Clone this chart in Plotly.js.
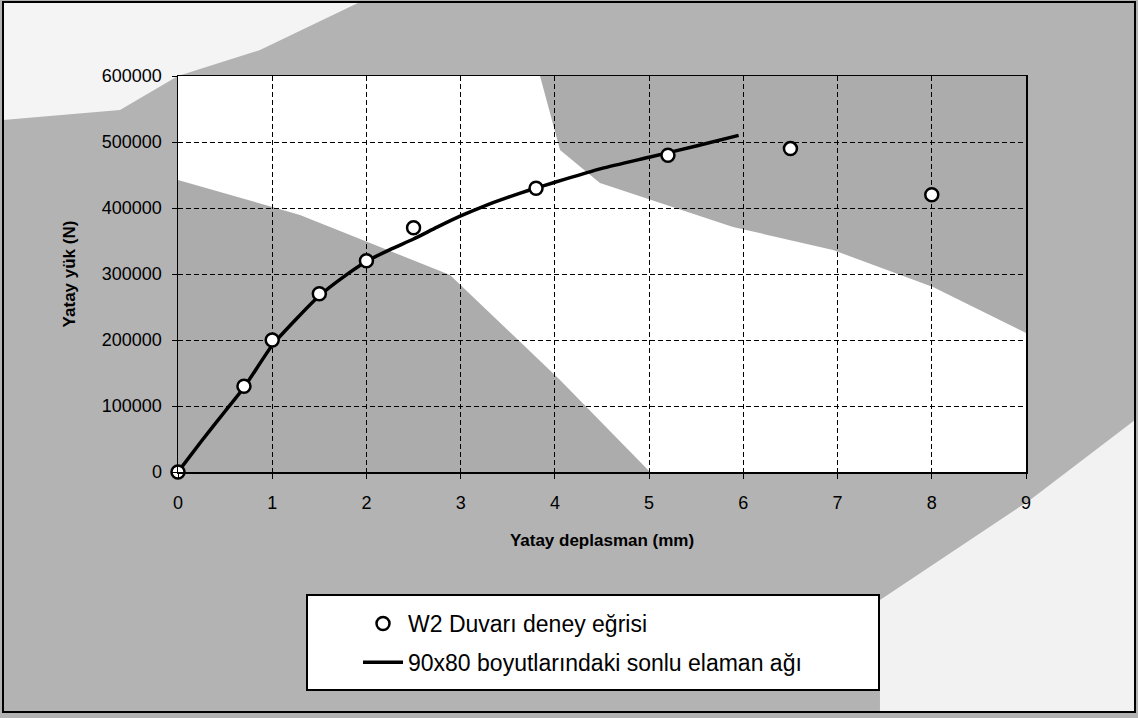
<!DOCTYPE html>
<html>
<head>
<meta charset="utf-8">
<script src="https://cdn.plot.ly/plotly-3.0.1.min.js"></script>
<style>
  html, body { margin: 0; padding: 0; background: #ffffff; }
  #chart { width: 1138px; height: 718px; }
</style>
</head>
<body>
<div id="chart"></div>
<script>
// ---- data ----
const testX = [0, 0.7, 1.0, 1.5, 2.0, 2.5, 3.8, 5.2, 6.5, 8.0];
const testY = [0, 130000, 200000, 270000, 320000, 370000, 430000, 480000, 490000, 420000];

const femX = [0, 0.25, 0.5, 0.7, 1.0, 1.25, 1.5, 1.75, 2.0, 2.25, 2.5, 2.75, 3.0, 3.25, 3.5, 3.75, 4.0, 4.5, 5.0, 5.5, 5.95];
const femY = [0, 47000, 92000, 128000, 192000, 231000, 267000, 295000, 319000, 337000, 353000, 371000, 388000, 403000, 416000, 428000, 439000, 460000, 477000, 494000, 510000];

const testName = 'W2 Duvarı deney eğrisi';
const femName = '90x80 boyutlarındaki sonlu elaman ağı';
const xTitle = 'Yatay deplasman (mm)';
const yTitle = 'Yatay yük (N)';

// ---- layout helpers (pixel -> paper) ----
const L = 178, R = 1026, T = 76, B = 472;
const W = R - L, H = B - T;
const px = (x) => (x - L) / W;
const py = (y) => (B - y) / H;
function poly(pts, fill) {
  const d = pts.map((p, i) => (i ? 'L' : 'M') + px(p[0]).toFixed(4) + ',' + py(p[1]).toFixed(4)).join(' ') + ' Z';
  return { type: 'path', xref: 'paper', yref: 'paper', layer: 'below', path: d, fillcolor: fill, line: { width: 0 } };
}
function rect(x0, y0, x1, y1, fill, lw, layer) {
  return { type: 'rect', xref: 'paper', yref: 'paper', layer: layer || 'below',
    x0: px(x0), x1: px(x1), y0: py(y1), y1: py(y0),
    fillcolor: fill, line: { color: '#000', width: lw } };
}

const GRAY = '#acacac';
const shapes = [
  // lighter patches on the page background
  poly([[3, 2], [360, 2], [260, 50], [178, 76], [120, 110], [3, 120]], '#f4f4f4'),
  poly([[1135, 420], [1135, 712], [880, 712], [880, 600], [1030, 500]], '#f2f2f2'),
  // gray areas inside plot
  poly([[178, 180], [300, 215], [450, 275], [560, 380], [650, 472], [178, 472]], GRAY),
  poly([[540, 76], [1026, 76], [1026, 333], [933, 287], [833, 250], [733, 227], [600, 183], [560, 150]], GRAY),
  // legend box
  rect(307, 595, 879, 690, '#ffffff', 2, 'above'),
  // outer frame
  rect(3, 2, 1135, 712, 'rgba(0,0,0,0)', 2, 'above')
];

const FONT = 'Liberation Sans, Arial, sans-serif';

const traces = [
  {
    type: 'scatter', mode: 'lines', name: femName,
    x: femX, y: femY,
    line: { color: '#000000', width: 3.5, shape: 'spline', smoothing: 0.5 },
    legendrank: 2, legendgroup: 'b', hoverinfo: 'skip'
  },
  {
    type: 'scatter', mode: 'markers', name: testName,
    x: testX, y: testY,
    marker: { symbol: 'circle', size: 13, color: '#ffffff', line: { color: '#000000', width: 2.5 } },
    legendrank: 1, legendgroup: 'a', cliponaxis: false
  }
];

const axisCommon = {
  showgrid: true, gridcolor: '#000000', gridwidth: 1, griddash: '5px,3px',
  showline: true, linecolor: '#000000', linewidth: 1.5, mirror: true,
  ticks: 'outside', ticklen: 5, tickcolor: '#000000', tickwidth: 1,
  zeroline: false,
  tickfont: { family: FONT, size: 18, color: '#000000' }
};

const layout = {
  width: 1138, height: 718, autosize: false,
  margin: { l: L, r: 1138 - R, t: T, b: 718 - B, pad: 0 },
  paper_bgcolor: '#b3b3b3',
  plot_bgcolor: '#ffffff',
  font: { family: FONT, color: '#000000' },
  showlegend: true,
  xaxis: Object.assign({}, axisCommon, {
    range: [0, 9], dtick: 1, tick0: 0,
    ticklabelstandoff: 9,
    title: { text: xTitle, standoff: 22, font: { family: FONT, size: 17, weight: 700, color: '#000' } }
  }),
  yaxis: Object.assign({}, axisCommon, {
    range: [0, 600000], dtick: 100000, tick0: 0, tickformat: 'd',
    ticklabelstandoff: 6,
    title: { text: yTitle, standoff: 22, font: { family: FONT, size: 17, weight: 700, color: '#000' } }
  }),
  legend: {
    x: px(358), y: py(602), xanchor: 'left', yanchor: 'top',
    bgcolor: 'rgba(0,0,0,0)', borderwidth: 0,
    font: { family: FONT, size: 23, color: '#000000' },
    tracegroupgap: 6, itemwidth: 40
  },
  shapes: shapes
};

Plotly.newPlot('chart', traces, layout, { displayModeBar: false, staticPlot: true });
</script>
</body>
</html>
